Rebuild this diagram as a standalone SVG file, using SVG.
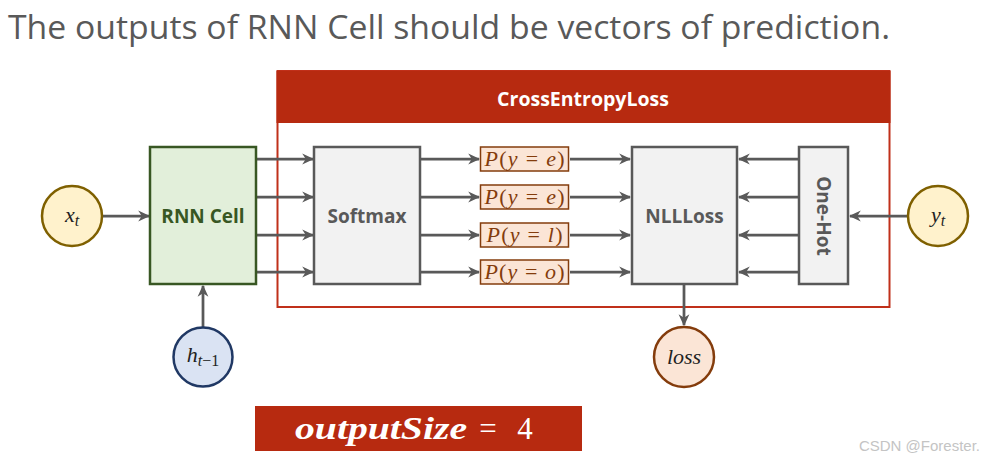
<svg xmlns="http://www.w3.org/2000/svg" width="983" height="463" viewBox="0 0 983 463">
<style>
.lbl{font-family:"Open Sans","Noto Sans",sans-serif;font-weight:bold;font-size:19px;fill:#595959;text-anchor:middle;dominant-baseline:central}
.math{font-family:"Liberation Serif","DejaVu Serif",serif;font-size:22px;text-anchor:middle}
.it{font-style:italic}
.conn{stroke:#595959;stroke-width:2.75;fill:none;marker-end:url(#ah)}
.gbox{fill:#F2F2F2;stroke:#595959;stroke-width:2.5}
.pbox{fill:#FBE5D6;stroke:#843C0C;stroke-width:1.5}
.ptxt{fill:#843C0C}
.os{font-family:"Liberation Serif","DejaVu Serif",serif;font-size:31px;fill:#FFFFFF}
</style>
<defs>
<marker id="ah" viewBox="0 0 10 10" refX="9" refY="5" markerWidth="12" markerHeight="12" markerUnits="userSpaceOnUse" orient="auto">
<path d="M0,0.5 L10,5 L0,9.5 L3,5 z" fill="#595959"/>
</marker>
</defs>
<rect width="983" height="463" fill="#FFFFFF"/>
<text x="8" y="39" font-family="'Open Sans','Noto Sans',sans-serif" font-size="32" fill="#595959" textLength="882" lengthAdjust="spacingAndGlyphs">The outputs of RNN Cell should be vectors of prediction.</text>

<g id="crossentropy">
<rect x="277.5" y="71" width="612" height="236" fill="#FFFFFF" stroke="#C0301A" stroke-width="2"/>
<rect x="276.5" y="71" width="614" height="52" fill="#B72A10"/>
<text x="583" y="98" font-family="'Open Sans','Noto Sans',sans-serif" font-weight="bold" font-size="19.5" fill="#FFFFFF" text-anchor="middle" dominant-baseline="central">CrossEntropyLoss</text>
</g>

<g id="connectors">
<line class="conn" x1="103" y1="216" x2="149" y2="216"/>
<line class="conn" x1="203" y1="328" x2="203" y2="286"/>
<line class="conn" x1="256" y1="159" x2="313" y2="159"/>
<line class="conn" x1="256" y1="197" x2="313" y2="197"/>
<line class="conn" x1="256" y1="235" x2="313" y2="235"/>
<line class="conn" x1="256" y1="272" x2="313" y2="272"/>
<line class="conn" x1="421" y1="159" x2="479" y2="159"/>
<line class="conn" x1="421" y1="197" x2="479" y2="197"/>
<line class="conn" x1="421" y1="235" x2="479" y2="235"/>
<line class="conn" x1="421" y1="272" x2="479" y2="272"/>
<line class="conn" x1="570" y1="159" x2="630" y2="159"/>
<line class="conn" x1="570" y1="197" x2="630" y2="197"/>
<line class="conn" x1="570" y1="235" x2="630" y2="235"/>
<line class="conn" x1="570" y1="272" x2="630" y2="272"/>
<line class="conn" x1="798" y1="159" x2="739" y2="159"/>
<line class="conn" x1="798" y1="197" x2="739" y2="197"/>
<line class="conn" x1="798" y1="235" x2="739" y2="235"/>
<line class="conn" x1="798" y1="272" x2="739" y2="272"/>
<line class="conn" x1="907" y1="216" x2="850" y2="216"/>
<line class="conn" x1="684" y1="285" x2="684" y2="325"/>
</g>

<g id="xt">
<circle cx="72" cy="216" r="30" fill="#FFF2CC" stroke="#7F6000" stroke-width="2.5"/>
<text x="72" y="222" class="math it" fill="#222" font-size="25">x<tspan font-size="16" dy="4">t</tspan></text>
</g>

<g id="rnncell">
<rect x="150" y="147" width="106" height="137" fill="#E2EFDA" stroke="#385723" stroke-width="2.5"/>
<text x="203" y="216" class="lbl" style="fill:#385723">RNN Cell</text>
</g>

<g id="ht1">
<circle cx="203" cy="357" r="29.5" fill="#DAE3F3" stroke="#203864" stroke-width="2.5"/>
<text x="203" y="362" class="math" fill="#222" font-size="25"><tspan class="it">h</tspan><tspan font-size="16" dy="4"><tspan class="it">t</tspan>−1</tspan></text>
</g>

<g id="softmax">
<rect x="314" y="147" width="106" height="137" class="gbox"/>
<text x="367" y="216" class="lbl">Softmax</text>
</g>

<g id="p1">
<rect x="480.5" y="147" width="88" height="24" class="pbox"/>
<text x="524.5" y="166" class="math ptxt" textLength="80"><tspan class="it">P</tspan>(<tspan class="it">y</tspan> = <tspan class="it">e</tspan>)</text>
</g>
<g id="p2">
<rect x="480.5" y="185" width="88" height="24" class="pbox"/>
<text x="524.5" y="204" class="math ptxt" textLength="80"><tspan class="it">P</tspan>(<tspan class="it">y</tspan> = <tspan class="it">e</tspan>)</text>
</g>
<g id="p3">
<rect x="480.5" y="223" width="88" height="24" class="pbox"/>
<text x="524.5" y="242" class="math ptxt" textLength="76"><tspan class="it">P</tspan>(<tspan class="it">y</tspan> = <tspan class="it">l</tspan>)</text>
</g>
<g id="p4">
<rect x="480.5" y="260" width="88" height="24" class="pbox"/>
<text x="524.5" y="279" class="math ptxt" textLength="80"><tspan class="it">P</tspan>(<tspan class="it">y</tspan> = <tspan class="it">o</tspan>)</text>
</g>

<g id="nllloss">
<rect x="632" y="147" width="105" height="137" class="gbox"/>
<text x="684.5" y="216" class="lbl">NLLLoss</text>
</g>

<g id="onehot">
<rect x="799" y="147" width="49" height="137" class="gbox"/>
<text x="823.5" y="216" class="lbl" transform="rotate(90 823.5 216)">One-Hot</text>
</g>

<g id="yt">
<circle cx="938" cy="216" r="30" fill="#FFF2CC" stroke="#7F6000" stroke-width="2.5"/>
<text x="938" y="222" class="math it" fill="#222" font-size="25">y<tspan font-size="16" dy="4">t</tspan></text>
</g>

<g id="loss">
<circle cx="684" cy="357" r="30" fill="#FBE5D6" stroke="#843C0C" stroke-width="2.5"/>
<text x="684" y="364" class="math it" fill="#222" font-size="24">loss</text>
</g>

<g id="outputsize">
<rect x="255" y="406" width="327" height="45" fill="#B72A10"/>
<text x="295" y="439" class="os" font-style="italic" font-weight="bold" textLength="172" lengthAdjust="spacingAndGlyphs">outputSize</text>
<text x="488" y="439" class="os" text-anchor="middle">=</text>
<text x="525" y="439" class="os" text-anchor="middle">4</text>
</g>

<text x="980" y="451" font-family="'Liberation Sans',Arial,sans-serif" font-size="15" fill="#C4C4C4" text-anchor="end">CSDN @Forester.</text>
</svg>
